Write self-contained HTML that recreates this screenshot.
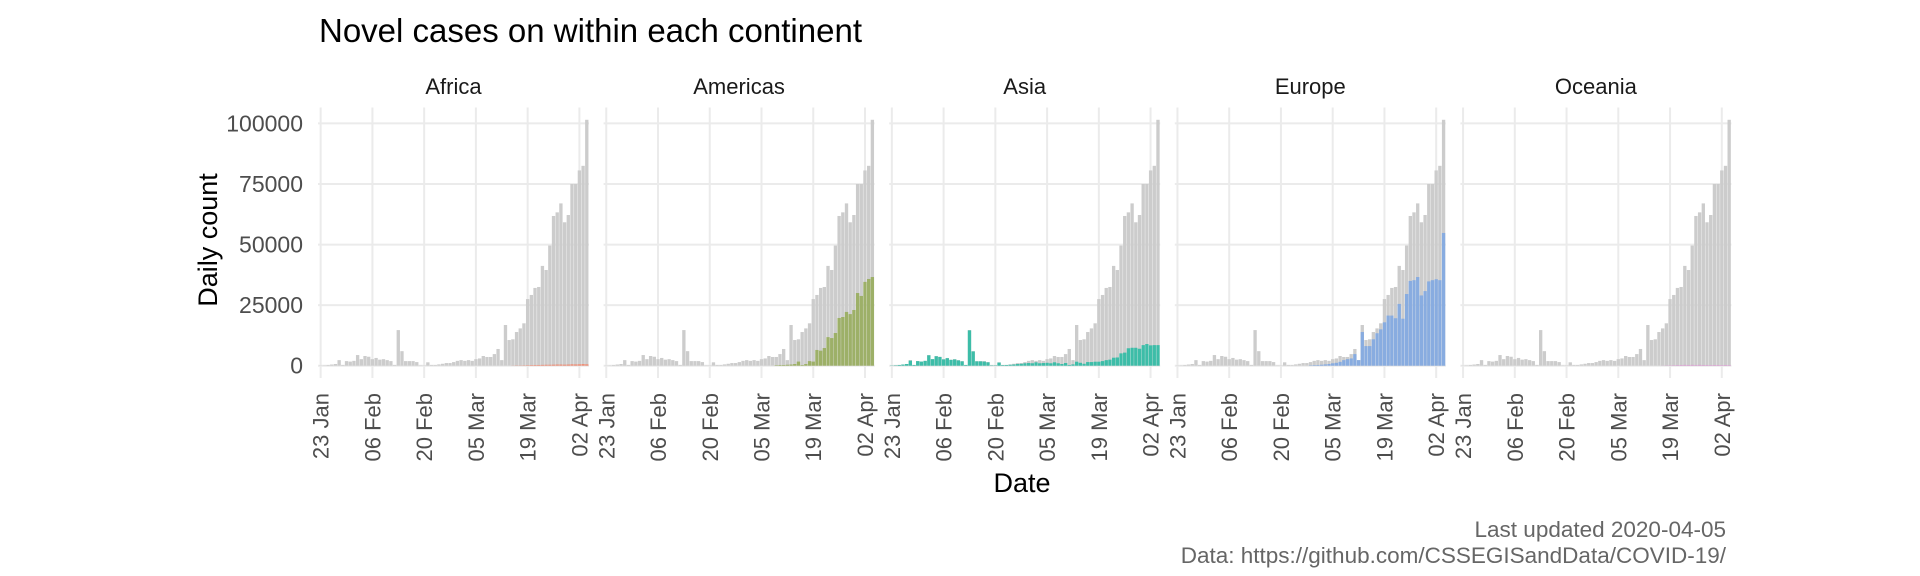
<!DOCTYPE html>
<html><head><meta charset="utf-8"><style>
html,body{margin:0;padding:0;background:#fff;}
svg{display:block;font-family:"Liberation Sans",Arial,sans-serif;}
</style></head><body>
<svg id="chart" width="1920" height="576" viewBox="0 0 1920 576">
<text x="319" y="42" font-size="33" fill="#000">Novel cases on within each continent</text>
<text x="1022" y="492" font-size="27" fill="#000" text-anchor="middle">Date</text>
<text transform="translate(217,240) rotate(-90)" font-size="27" fill="#000" text-anchor="middle">Daily count</text>
<text x="1726" y="537" font-size="22.5" fill="#666" text-anchor="end">Last updated 2020-04-05</text>
<text x="1726" y="563" font-size="22.5" fill="#666" text-anchor="end">Data: https://github.com/CSSEGISandData/COVID-19/</text>
<g id="panels"></g>
</svg>
<script>
const continents = ["Africa","Americas","Asia","Europe","Oceania"];
const colors = ["#EE9078","#9DB068","#3DBDA8","#88ACE0","#D99BD0"];
const tickDays = [0,14,28,42,56,70];
const tickLabels = ["23 Jan","06 Feb","20 Feb","05 Mar","19 Mar","02 Apr"];
const yTicks = [0,25000,50000,75000,100000];
const total = [100,150,300,500,700,2300,300,1900,1700,2000,4400,2700,4000,3700,2700,3200,2500,2700,2300,1900,300,14700,6000,1900,1900,1900,1500,150,150,1400,300,300,550,800,1100,1100,1500,2000,2300,2000,2300,2000,2700,3000,4000,3600,3600,4800,6900,2300,16800,10600,10900,13900,15400,17500,27500,29200,32100,32500,41200,39500,49600,61800,63300,67000,59200,62200,75000,75000,80600,82500,101500];
const africa = [0,0,0,0,0,0,0,0,0,0,0,0,0,0,0,0,0,0,0,0,0,0,0,0,0,0,0,0,0,0,0,0,0,0,0,0,0,0,0,0,0,0,0,0,0,0,0,0,0,0,0,0,50,100,100,150,200,250,300,300,350,400,400,450,500,500,450,500,600,550,600,700,600];
const americas = [0,0,0,0,0,0,0,0,0,0,0,0,0,0,0,0,0,0,0,0,0,0,0,0,0,0,0,0,0,0,0,0,0,0,0,0,0,0,0,0,0,0,0,0,0,0,200,300,300,400,500,700,1700,300,700,1900,1700,6500,6200,7300,11800,11400,13500,19700,20100,22200,21300,23000,30000,28800,34600,35800,36600];
const asia = [100,150,300,500,700,2100,300,1900,1700,2000,4300,2700,3900,3600,2600,3100,2400,2600,2200,1800,300,14600,5900,1800,1800,1700,1400,150,150,1300,250,300,400,500,700,800,1000,1100,1000,1400,1000,1100,1200,1000,1400,1000,700,1100,300,550,1650,1200,800,1500,1500,1650,1650,1900,2300,2500,3300,3400,5100,5400,7200,7400,7400,7000,8500,8950,8400,8500,8500];
const europe = [0,0,0,0,0,0,0,0,0,0,0,0,0,0,0,0,0,0,0,0,0,0,0,0,0,0,0,0,0,0,0,0,0,0,0,0,150,250,300,400,550,700,1000,1200,1600,2300,2700,3000,4800,2300,13900,8100,8100,10900,13400,15000,17900,20700,20700,19600,25500,19400,29600,35000,35300,36600,29000,30800,34800,35300,35700,35300,54800];
const oceania = [0,0,0,0,0,0,0,0,0,0,0,0,0,0,0,0,0,0,0,0,0,0,0,0,0,0,0,0,0,0,0,0,0,0,0,0,0,0,0,0,0,0,0,0,0,0,0,0,0,0,0,0,0,0,50,100,150,200,250,300,350,300,350,300,350,300,300,250,300,300,250,300,250];
const series = [africa, americas, asia, europe, oceania];

const NS = "http://www.w3.org/2000/svg";
const panelsG = document.getElementById("panels");
const P0 = 318, STEP = 285.6, PW = 271, PTOP = 107.5, PBOT = 378;
const X_MIN = -0.72, X_MAX = 72.6;
const Y_MIN = -5075, Y_MAX = 106575;
function xScale(p, d){ return P0 + p*STEP + (d - X_MIN)/(X_MAX - X_MIN)*PW; }
function yScale(v){ return PBOT - (v - Y_MIN)/(Y_MAX - Y_MIN)*(PBOT - PTOP); }
function mk(tag, attrs, parent){
  const e = document.createElementNS(NS, tag);
  for (const k in attrs) e.setAttribute(k, attrs[k]);
  parent.appendChild(e); return e;
}
const dayW = PW/(X_MAX - X_MIN);
const barW = dayW*0.9;

continents.forEach((name, p) => {
  const g = mk("g", {}, panelsG);
  
  
  const left = P0 + p*STEP;
  yTicks.forEach(v => {
    const l = mk("line", {x1:left, x2:left+PW, y1:yScale(v), y2:yScale(v), stroke:"#EBEBEB", "stroke-width":2}, g);
    
    
  });
  tickDays.forEach((d, i) => {
    const x = xScale(p, d);
    const l = mk("line", {x1:x, x2:x, y1:PTOP, y2:PBOT, stroke:"#EBEBEB", "stroke-width":2}, g);
    
    
    const t = mk("text", {transform:"translate("+(x+8)+",393) rotate(-90)", "font-size":22, fill:"#4D4D4D", "text-anchor":"end"}, g);
    t.textContent = tickLabels[i];
    
    
  });
  const strip = mk("text", {x:left+PW/2, y:94, "font-size":22, fill:"#1A1A1A", "text-anchor":"middle"}, g);
  strip.textContent = name;
  
  
  total.forEach((v, d) => {
    const r = mk("rect", {x:xScale(p,d)-barW/2, y:yScale(v), width:barW, height:Math.max(0,yScale(0)-yScale(v)), fill:"#CCCCCC"}, g);
    
    
  });
  series[p].forEach((v, d) => {
    if (!v) return;
    const r = mk("rect", {x:xScale(p,d)-barW/2, y:yScale(v), width:barW, height:Math.max(0,yScale(0)-yScale(v)), fill:colors[p]}, g);
    
    
  });
});
yTicks.forEach(v => {
  const t = mk("text", {x:303, y:yScale(v)+8, "font-size":23, fill:"#4D4D4D", "text-anchor":"end"}, panelsG);
  t.textContent = String(v);
  
  
});
</script>
</body></html>
